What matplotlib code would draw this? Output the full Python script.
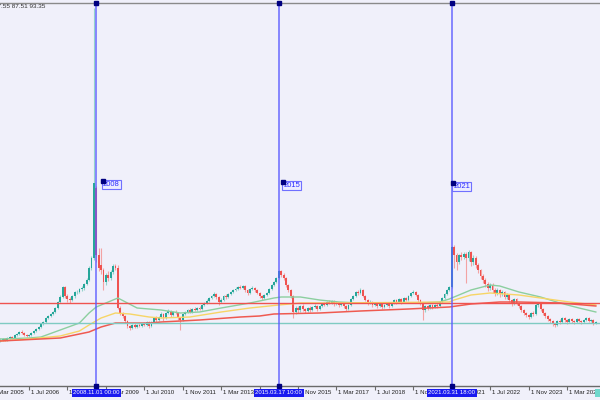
import matplotlib
matplotlib.use("Agg")
import matplotlib.pyplot as plt
from matplotlib import font_manager
from matplotlib.transforms import blended_transform_factory, offset_copy
import matplotlib.patches as mpatches

# ---------------- data (monthly candles, Jul 2005 .. Mar 2026) ----------------
opens = [85,86,87,86,88,89,88,91,92,94,
         93,91,90,91,93,95,97,99,102,104,
         108,110,112,114,118,124,129,139,130,127,
         126,130,134,134,137,138,142,146,158,168,
         238,171,161,156,144,151,148,154,160,158,
         118,113,110,105,100,98,101,99,101,100,
         102,101,104,100,104,108,106,109,112,108,
         113,115,111,114,113,108,106,112,114,116,
         114,117,116,118,117,121,123,125,128,130,
         132,129,124,126,130,129,132,134,136,137,
         139,138,140,136,133,137,138,136,133,130,
         128,131,133,137,141,144,148,155,151,148,
         141,136,130,114,118,116,120,117,115,118,
         116,119,120,117,120,122,121,124,123,125,
         122,123,121,123,120,117,121,127,130,134,
         133,136,130,126,123,124,121,123,120,122,
         119,121,123,120,123,126,124,127,124,128,
         126,130,133,134,131,126,123,116,120,118,
         121,119,121,120,124,128,132,136,139,179,
         171,164,171,169,172,168,174,164,168,161,
         156,150,146,142,138,141,136,133,136,132,
         134,129,131,126,123,127,123,120,116,113,
         111,109,113,112,121,122,117,113,110,107,
         105,102,101,105,104,108,106,104,107,105,
         104,107,105,104,106,108,105,106,103]
closes = [86,87,86,88,89,88,91,92,94,93,
          91,90,91,93,95,97,99,102,104,108,
          110,112,114,118,124,129,139,130,127,126,
          130,134,134,137,138,142,146,158,168,243,
          171,158,156,144,151,148,154,160,158,118,
          113,110,105,100,98,101,99,101,100,102,
          101,104,100,104,108,106,109,112,108,113,
          115,111,114,113,108,106,112,114,116,114,
          117,116,118,117,121,123,125,128,130,132,
          129,124,126,130,129,132,134,136,137,139,
          138,140,136,133,137,138,136,133,130,128,
          131,133,137,141,144,148,155,151,148,141,
          136,130,114,118,116,120,117,115,118,116,
          119,120,117,120,122,121,124,123,125,122,
          123,121,123,120,117,121,127,130,134,133,
          136,130,126,123,124,121,123,120,122,119,
          121,123,120,123,126,124,127,124,128,126,
          130,133,134,131,126,123,116,120,118,121,
          119,121,120,124,128,132,136,139,179,171,
          164,171,169,172,168,174,164,168,161,156,
          150,146,142,138,141,136,133,136,132,134,
          129,131,126,123,127,123,120,116,113,111,
          109,113,112,121,122,117,113,110,107,105,
          102,101,105,104,108,106,104,107,105,104,
          107,105,104,106,108,105,106,103,104]
highs = [88,88,88,89,90,90,92,93,95,96,
         94,92,92,94,96,98,100,103,105,109,
         111,113,115,119,125,131,140,140,132,129,
         131,135,136,138,140,143,148,160,170,418,
         240,178,178,158,153,155,156,162,162,161,
         120,114,111,106,101,102,103,102,103,103,
         104,105,105,105,109,110,110,114,113,114,
         117,116,115,116,114,109,113,115,117,118,
         118,119,119,120,122,124,127,129,131,134,
         133,130,128,131,132,133,135,137,139,140,
         141,141,141,137,138,140,139,137,134,131,
         132,134,138,142,145,149,156,156,153,149,
         142,137,131,120,120,121,122,118,119,120,
         120,122,121,121,123,124,125,126,126,126,
         125,124,124,124,121,122,128,131,135,136,
         138,137,131,127,126,125,124,124,123,123,
         122,124,124,124,127,127,128,128,129,129,
         131,134,136,135,132,127,124,121,121,122,
         122,122,123,125,129,133,137,140,180,181,
         173,172,174,174,174,176,175,171,170,163,
         157,152,148,144,143,143,138,138,137,136,
         135,133,132,127,128,128,124,121,117,114,
         112,114,115,123,124,123,118,114,111,108,
         106,103,106,107,109,109,107,108,108,106,
         108,108,106,107,109,109,107,107,105]
lows = [84,85,85,85,87,87,87,90,91,92,
        90,89,89,90,92,94,96,98,101,103,
        107,109,111,113,117,123,128,128,124,123,
        125,128,132,133,135,136,141,145,156,166,
        164,155,152,136,141,145,146,152,156,117,
        111,108,103,98,96,97,98,98,99,99,
        100,100,98,99,103,104,105,108,105,107,
        112,109,110,112,106,96,105,111,113,113,
        113,115,115,116,116,120,122,124,127,129,
        127,121,123,125,127,128,131,133,135,136,
        137,137,134,131,132,136,134,132,128,126,
        127,130,132,136,140,143,147,149,146,139,
        134,128,108,112,113,114,115,113,114,114,
        115,118,115,116,119,120,120,122,122,120,
        121,119,120,118,115,116,120,126,129,131,
        132,129,125,121,122,119,120,118,119,117,
        118,120,118,119,122,122,123,122,123,125,
        125,129,132,130,124,121,106,114,116,117,
        117,118,118,119,123,127,131,135,138,158,
        156,162,166,167,143,165,160,161,158,153,
        147,143,139,135,136,133,130,131,129,130,
        127,127,124,120,121,121,118,114,111,109,
        107,108,110,111,119,115,111,108,105,103,
        100,99,100,102,103,104,102,103,103,102,
        103,104,102,103,105,104,104,101,102]

# moving averages (month index, value)
ma_green_idx = [0, 12, 17, 25, 33, 37, 40, 44, 49, 57, 67, 75, 83, 92, 104, 114, 117,
                125, 133, 141, 150, 175, 183, 187, 191, 196, 204, 208, 216, 225, 233, 241, 248]
ma_green_val = [87, 88, 89, 96, 103, 113, 119, 123, 128, 118, 116, 113, 114, 118, 123, 128, 129,
                129, 126, 124, 123, 123, 124, 127, 131, 136, 141, 140, 134, 129, 123, 118, 114]
ma_yellow_idx = [0, 12, 25, 33, 37, 42, 48, 54, 62, 67, 79, 92, 104, 116, 125, 137, 187,
                 189, 196, 204, 216, 225, 237, 248]
ma_yellow_val = [85, 87, 90, 95, 101, 108, 113, 112, 109, 108, 109, 114, 118, 121, 123, 123, 124,
                 126, 131, 133, 131, 128, 124, 121]
ma_red_idx = [0, 25, 37, 42, 48, 62, 67, 83, 100, 108, 114, 133, 150, 170, 187, 196, 208, 216, 233, 248]
ma_red_val = [85, 88, 94, 99, 103, 103, 104, 106, 109, 110, 112, 113, 115, 117, 119, 122, 124, 124, 123, 120]

hline_red = 123
hline_teal = 103.5

tick_idx = [-4, 12, 28, 44, 60, 76, 92, 108, 124, 140, 156, 172, 188, 204, 220, 236]
tick_labels = ["1 Mar 2005", "1 Jul 2006", "1 Nov 2007", "1 Mar 2009", "1 Jul 2010",
               "1 Nov 2011", "1 Mar 2013", "1 Jul 2014", "1 Nov 2015", "1 Mar 2017",
               "1 Jul 2018", "1 Nov 2019", "1 Mar 2021", "1 Jul 2022", "1 Nov 2023",
               "1 Mar 2025"]

vline_idx = [40, 116, 188]
vline_dates = ["2008.11.01 00:00", "2015.03.17 10:00", "2021.03.31 18:00"]
vline_names = ["2008", "2015", "2021"]
name_pos_idx = [42.8, 117.8, 188.7]
name_pos_val = [245, 244, 243]

header_text = "97.55 87.51 93.35"

# ---------------- style ----------------
BG = "#f0f0fa"
BULL = "#26a69a"
BEAR = "#ef5350"
BULL_W = "#93d3cb"
BEAR_W = "#f3a3a3"
VCOL = "#5a5aff"

names = {f.name for f in font_manager.fontManager.ttflist}
FONT = "Liberation Sans Narrow" if "Liberation Sans Narrow" in names else "Liberation Sans"
plt.rcParams["font.family"] = [FONT, "DejaVu Sans"]

fig = plt.figure(figsize=(6, 4), dpi=100, facecolor=BG)
ax = fig.add_axes([0, 14 / 400, 1, 383 / 400])
ax.set_facecolor(BG)

for s in ("left", "right"):
    ax.spines[s].set_visible(False)
ax.spines["top"].set_color("#8a8a8a")
ax.spines["top"].set_linewidth(1.0)
ax.spines["bottom"].set_color("#6a6a6a")
ax.spines["bottom"].set_linewidth(1.0)
ax.set_yticks([])
ax.set_xticks(tick_idx)
ax.set_xticklabels([])
ax.tick_params(axis="x", length=3, width=0.8, color="#6a6a6a", direction="out")

idx = list(range(len(opens)))
bull = [c >= o for o, c in zip(opens, closes)]
ax.vlines(idx, lows, highs, colors=[BULL_W if b else BEAR_W for b in bull], lw=0.8, zorder=2)
ax.bar(idx, [c - o for o, c in zip(opens, closes)], bottom=opens, width=0.78,
       color=[BULL if b else BEAR for b in bull], linewidth=0, zorder=3)

ax.plot(ma_green_idx, ma_green_val, color="#8ccf9f", lw=1.0, zorder=4)
ax.plot(ma_yellow_idx, ma_yellow_val, color="#f7d566", lw=1.0, zorder=4)
ax.plot(ma_red_idx, ma_red_val, color="#ef5a50", lw=1.1, zorder=4)

ax.axhline(hline_red, color="#ef5350", lw=1.0, zorder=4)
ax.axhline(hline_teal, color="#7fcbc2", lw=1.0, zorder=4)

# limits after ticks (set_xticks would otherwise expand the view)
ax.set_xlim(-0.074, 249.74)
ax.set_ylim(40, 423)

bt = blended_transform_factory(ax.transData, ax.transAxes)
lab_tr = offset_copy(bt, fig=fig, x=2, y=-6.5, units="dots")
for t, lab in zip(tick_idx, tick_labels):
    ax.text(t, 0, lab, transform=lab_tr, ha="left", va="center", fontsize=4.4,
            color="#222222", clip_on=False, zorder=6)

date_tr = offset_copy(bt, fig=fig, x=0, y=-7, units="dots")
for vi, d, nm, px, pv in zip(vline_idx, vline_dates, vline_names, name_pos_idx, name_pos_val):
    ax.axvline(vi, color=VCOL, lw=1.1, alpha=0.9, zorder=5)
    ax.plot([vi], [423], marker="s", ms=2.6, color="#000080", clip_on=False, zorder=7)
    ax.plot([vi], [40], marker="s", ms=2.6, color="#000080", clip_on=False, zorder=7)
    ax.text(px, pv, nm, ha="left", va="top", fontsize=5.5, color="#2a2aff", zorder=7,
            bbox=dict(boxstyle="square,pad=0.15", fc="#ececff", ec="#7070ff", lw=0.8))
    ax.plot([px], [pv], marker="s", ms=2.4, color="#000080", zorder=8)
    ax.text(vi, 0, d, transform=date_tr, ha="center", va="center", fontsize=4.3,
            color="white", clip_on=False, zorder=9,
            bbox=dict(boxstyle="square,pad=0.25", fc="#1a1af0", ec="none"))

fig.text(-6 / 600, 1 - 6 / 400, header_text, ha="left", va="center", fontsize=4.6, color="#333333")
fig.patches.append(mpatches.Rectangle((595 / 600, 3 / 400), 5 / 600, 8 / 400,
                                      transform=fig.transFigure, fc="#70d8cc", ec="none"))

fig.savefig("out.png", dpi=100, facecolor=BG)
